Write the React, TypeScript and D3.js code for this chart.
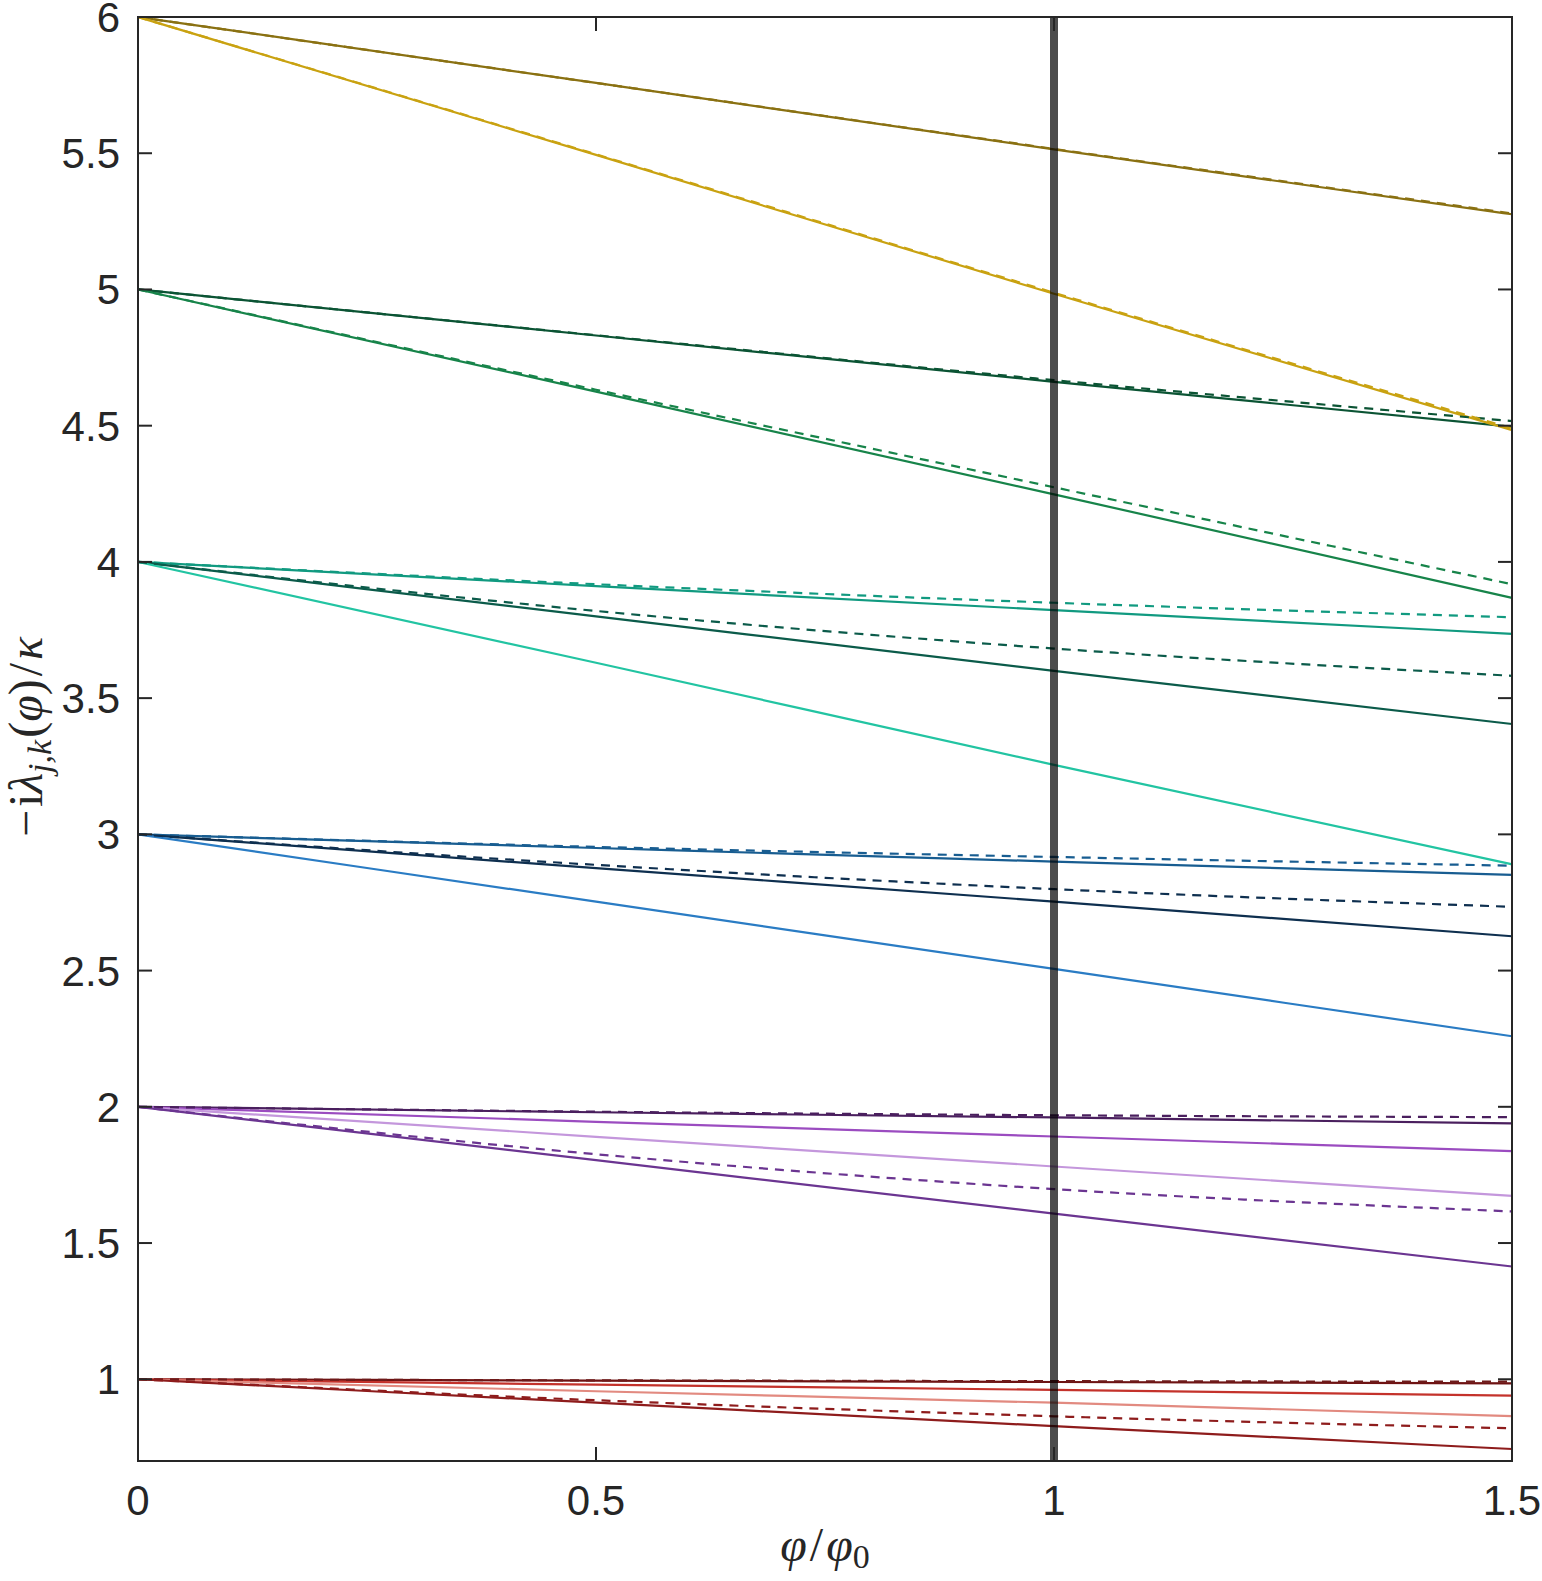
import { useEffect } from 'react';
import * as d3 from 'd3';

const PHI = [0, 0.5, 1, 1.5];

// solid branches: values at PHI
const SOLID_VALUES: number[][] = [
  [1, 0.995, 0.99, 0.985],
  [1, 0.98, 0.961, 0.94],
  [1, 0.956, 0.914, 0.865],
  [1, 0.914, 0.828, 0.744],
  [2, 1.98, 1.961, 1.939],
  [2, 1.945, 1.891, 1.837],
  [2, 1.89, 1.781, 1.673],
  [2, 1.804, 1.608, 1.414],
  [3, 2.95, 2.9, 2.851],
  [3, 2.876, 2.753, 2.626],
  [3, 2.753, 2.506, 2.259],
  [4, 3.911, 3.823, 3.736],
  [4, 3.8, 3.6, 3.405],
  [4, 3.63, 3.255, 2.89],
  [5, 4.831, 4.661, 4.496],
  [5, 4.625, 4.248, 3.868],
  [6, 5.758, 5.514, 5.276],
  [6, 5.494, 4.984, 4.484],
];
const SOLID_COLORS = [
  '#6e1212', '#c4322b', '#e28a80', '#8e1c1c',
  '#4a1f5e', '#9b4cc0', '#c497dc', '#6b3591',
  '#185d91', '#0e2f4f', '#2a7cc4',
  '#119a80', '#0b5b4a', '#22c4a2',
  '#0b5434', '#17844a',
  '#8a7112', '#c9a211',
];

// dashed branches: values at PHI
const DASHED_VALUES: number[][] = [
  [1, 0.996, 0.993, 0.991],
  [1, 0.923, 0.864, 0.82],
  [2, 1.982, 1.969, 1.962],
  [2, 1.826, 1.698, 1.616],
  [3, 2.954, 2.917, 2.885],
  [3, 2.888, 2.799, 2.734],
  [4, 3.918, 3.85, 3.797],
  [4, 3.82, 3.682, 3.582],
  [5, 4.832, 4.667, 4.517],
  [5, 4.632, 4.274, 3.918],
  [6, 5.758, 5.516, 5.279],
  [6, 5.496, 4.988, 4.49],
];
const DASHED_COLORS = [
  '#6e1a1a', '#8e1c1c',
  '#4a1f5e', '#6b3591',
  '#185d91', '#0e2f4f',
  '#119a80', '#0b5b4a',
  '#0b5434', '#17844a',
  '#8a7112', '#c9a211',
];

const X_TICKS = [0, 0.5, 1, 1.5];
const Y_TICKS = [1, 1.5, 2, 2.5, 3, 3.5, 4, 4.5, 5, 5.5, 6];
const MARKER_PHI = 1;

const W = 1542;
const H = 1581;
const M = { left: 138, right: 1512, top: 17, bottom: 1461 };
const AXIS = '#262626';
const TICK_LEN = 14;

export default function App() {
  useEffect(() => {
    document.body.style.margin = '0';
  }, []);

  const x = d3.scaleLinear().domain([0, 1.5]).range([M.left, M.right]);
  const y = d3.scaleLinear().domain([0.7, 6]).range([M.bottom, M.top]);

  const line = d3
    .line<number>()
    .x((_, i) => x(PHI[i]))
    .y((d) => y(d))
    .curve(d3.curveMonotoneX);

  const fmt = (v: number) => String(v);

  return (
    <svg width={W} height={H} style={{ display: 'block', background: '#fff' }}>
      <rect x={0} y={0} width={W} height={H} fill="#fff" />

      {SOLID_VALUES.map((vals, i) => (
        <path key={`s${i}`} d={line(vals) ?? ''} fill="none" stroke={SOLID_COLORS[i]} strokeWidth={2.2} />
      ))}
      {DASHED_VALUES.map((vals, i) => (
        <path
          key={`d${i}`}
          d={line(vals) ?? ''}
          fill="none"
          stroke={DASHED_COLORS[i]}
          strokeWidth={2.2}
          strokeDasharray="9,7"
        />
      ))}

      {/* marker at phi = phi0 */}
      <line
        x1={x(MARKER_PHI)}
        x2={x(MARKER_PHI)}
        y1={M.top}
        y2={M.bottom}
        stroke="#000"
        strokeOpacity={0.7}
        strokeWidth={8}
      />

      {/* box + ticks */}
      <rect
        x={M.left}
        y={M.top}
        width={M.right - M.left}
        height={M.bottom - M.top}
        fill="none"
        stroke={AXIS}
        strokeWidth={2}
      />
      {X_TICKS.map((t) => (
        <g key={`xt${t}`}>
          <line x1={x(t)} x2={x(t)} y1={M.bottom} y2={M.bottom - TICK_LEN} stroke={AXIS} strokeWidth={2} />
          <line x1={x(t)} x2={x(t)} y1={M.top} y2={M.top + TICK_LEN} stroke={AXIS} strokeWidth={2} />
          <text
            x={x(t)}
            y={M.bottom + 54}
            textAnchor="middle"
            fontFamily="'Liberation Sans', Arial, sans-serif"
            fontSize={42}
            fill={AXIS}
          >
            {fmt(t)}
          </text>
        </g>
      ))}
      {Y_TICKS.map((t) => (
        <g key={`yt${t}`}>
          <line x1={M.left} x2={M.left + TICK_LEN} y1={y(t)} y2={y(t)} stroke={AXIS} strokeWidth={2} />
          <line x1={M.right} x2={M.right - TICK_LEN} y1={y(t)} y2={y(t)} stroke={AXIS} strokeWidth={2} />
          <text
            x={M.left - 18}
            y={y(t) + 15}
            textAnchor="end"
            fontFamily="'Liberation Sans', Arial, sans-serif"
            fontSize={42}
            fill={AXIS}
          >
            {fmt(t)}
          </text>
        </g>
      ))}

      {/* axis labels */}
      <text
        x={(M.left + M.right) / 2}
        y={1561}
        textAnchor="middle"
        fontFamily="'Liberation Serif', 'DejaVu Serif', serif"
        fontSize={48}
        fill={AXIS}
      >
        <tspan fontStyle="italic">φ</tspan>
        <tspan dx={3}>/</tspan>
        <tspan fontStyle="italic" dx={3}>φ</tspan>
        <tspan fontSize={34} dy={7}>0</tspan>
      </text>
      <text
        transform={`translate(42, ${(M.top + M.bottom) / 2 - 2}) rotate(-90)`}
        textAnchor="middle"
        fontFamily="'Liberation Serif', 'DejaVu Serif', serif"
        fontSize={48}
        fill={AXIS}
      >
        <tspan>−</tspan>
        <tspan dx={3}>i</tspan>
        <tspan fontStyle="italic">λ</tspan>
        <tspan fontStyle="italic" fontSize={34} dy={9}>j,k</tspan>
        <tspan dy={-9} dx={2}>(</tspan>
        <tspan fontStyle="italic">φ</tspan>
        <tspan>)</tspan>
        <tspan dx={3}>/</tspan>
        <tspan fontStyle="italic" dx={3}>κ</tspan>
      </text>
    </svg>
  );
}
